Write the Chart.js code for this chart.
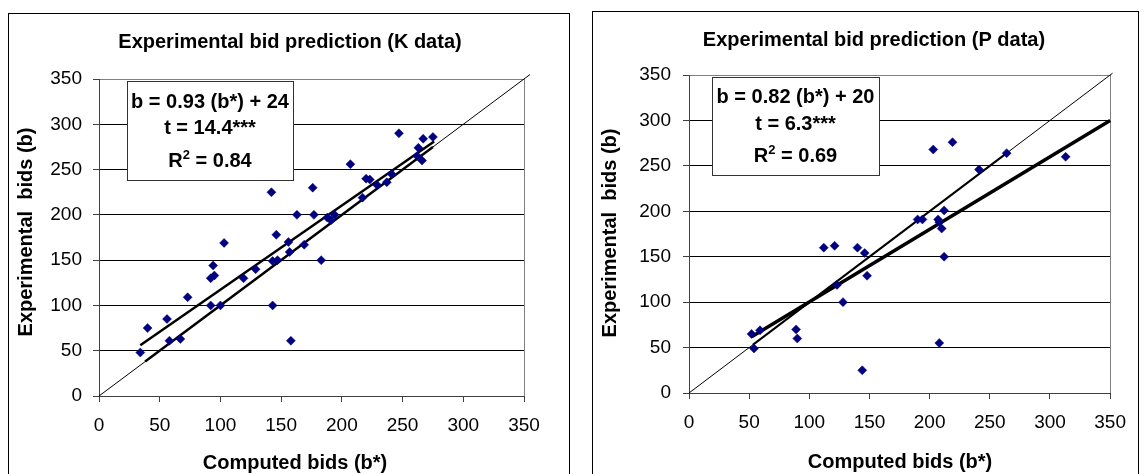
<!DOCTYPE html>
<html>
<head>
<meta charset="utf-8">
<script src="https://cdn.jsdelivr.net/npm/chart.js@4.4.0/dist/chart.umd.min.js"></script>
<style>
body { margin: 0; background: #fff; width: 1144px; height: 474px; overflow: hidden; position: relative; }
.frame { position: absolute; border: 1px solid #000; background: #fff; }
#frameK { left: 8px; top: 13px; width: 560px; height: 470px; }
#frameP { left: 592px; top: 11px; width: 545px; height: 470px; }
.frame canvas { position: absolute; left: 0; top: 0; }
</style>
</head>
<body>
<div class="frame" id="frameK"><canvas id="chartK" width="560" height="461"></canvas></div>
<div class="frame" id="frameP"><canvas id="chartP" width="545" height="463"></canvas></div>

<script>
// K data: computed bids (b*) vs experimental bids (b)
const kComputed = [34, 40, 56, 58, 67, 73, 92, 92, 95, 94, 100, 103, 119, 129, 142, 143, 143, 146, 147, 156, 157, 158, 163, 169, 176, 177, 183, 188, 191, 194, 207, 217, 220, 223, 229, 237, 241, 247, 263, 262, 266, 267, 275];
const kBids     = [48, 75, 85, 61, 63, 109, 100, 130, 133, 144, 100, 169, 130, 140, 225, 100, 149, 178, 150, 170, 159, 61, 200, 167, 230, 200, 150, 197, 194, 200, 256, 219, 240, 239, 233, 236, 245, 290, 274, 265, 260, 284, 286];

// P data
const pComputed = [52, 59, 54, 89, 90, 112, 121, 123, 128, 140, 146, 148, 144, 190, 194, 203, 219, 241, 264, 313, 212, 207, 208, 210, 212, 208];
const pBids     = [65, 69, 49, 70, 60, 160, 162, 119, 100, 160, 154, 129, 25, 191, 191, 268, 276, 246, 264, 260, 201, 191, 188, 181, 150, 55];

// lines (end points)
const kDiagX = [0, 355],  kDiagY = [0, 355];
const kSegX  = [38, 275], kSegY  = [38, 275];
const kFitX  = [34, 276], kFitY  = [56, 281];
const pDiagX = [0, 352],  pDiagY = [0, 352];
const pSegX  = [53, 264], pSegY  = [53, 264];
const pFitX  = [52, 350], pFitY  = [62, 300];

const axisTicks = [0, 50, 100, 150, 200, 250, 300, 350];

const FONT = '"Liberation Sans", Arial, sans-serif';

function pts(xs, ys) {
    return xs.map((x, i) => ({ x: x, y: ys[i] }));
}

function drawR2(ctx, cx, y, val) {
    const big = 'bold 20px ' + FONT, small = 'bold 13px ' + FONT;
    ctx.font = big;
    const wR = ctx.measureText('R').width;
    const wRest = ctx.measureText(' = ' + val).width;
    ctx.font = small;
    const w2 = ctx.measureText('2').width;
    let x = cx - (wR + w2 + wRest) / 2;
    ctx.textAlign = 'left';
    ctx.font = big;
    ctx.fillText('R', x, y);
    x += wR;
    ctx.font = small;
    ctx.fillText('2', x, y - 8);
    x += w2;
    ctx.font = big;
    ctx.fillText(' = ' + val, x, y);
}

const textPlugin = {
    id: 'texts',
    afterDatasetsDraw(chart, args, o) {
        const ctx = chart.ctx;
        ctx.save();
        ctx.fillStyle = '#000';
        ctx.textBaseline = 'alphabetic';
        ctx.textAlign = 'center';
        ctx.font = 'bold 20px ' + FONT;
        ctx.fillText(o.title, o.titleX, o.titleY);
        ctx.fillText(o.xTitle, o.xTitleX, o.xTitleY);
        ctx.save();
        ctx.translate(o.yTitleX, o.yTitleY);
        ctx.rotate(-Math.PI / 2);
        ctx.fillText(o.yTitle, 0, 0);
        ctx.restore();

        // equation box
        const b = o.box;
        ctx.fillStyle = '#fff';
        ctx.fillRect(b.x, b.y, b.w, b.h);
        ctx.strokeStyle = '#333';
        ctx.lineWidth = 1;
        ctx.strokeRect(b.x + 0.5, b.y + 0.5, b.w, b.h);
        ctx.fillStyle = '#000';
        const cx = b.x + b.w / 2;
        ctx.fillText(o.eq, cx, b.l1);
        ctx.fillText(o.tStat, cx, b.l2);
        drawR2(ctx, cx, b.l3, o.r2);
        ctx.restore();
    }
};

function makeChart(id, xs, ys, lines, dims, texts) {
    const datasets = [{
        data: pts(xs, ys),
        pointStyle: 'rectRot',
        pointRadius: 4.5,
        backgroundColor: '#000080',
        borderColor: '#000080',
        borderWidth: 0.5,
        order: 0
    }];
    lines.forEach(l => {
        datasets.push({
            data: pts(l.x, l.y),
            showLine: true,
            pointRadius: 0,
            borderColor: '#000',
            borderWidth: l.w,
            clip: false,
            order: 1
        });
    });

    const tickFont = { family: FONT, size: 19 };
    return new Chart(document.getElementById(id), {
        type: 'scatter',
        data: { datasets: datasets },
        options: {
            responsive: false,
            animation: false,
            layout: { padding: { top: dims.top, left: 0, right: dims.right, bottom: dims.bottom } },
            plugins: { legend: { display: false }, tooltip: { enabled: false }, texts: texts },
            scales: {
                x: {
                    type: 'linear', min: 0, max: 350,
                    afterBuildTicks: s => { s.ticks = axisTicks.map(v => ({ value: v })); },
                    afterFit: s => { s.height = 60; },
                    ticks: { font: tickFont, color: '#000', padding: dims.xPad, maxRotation: 0 },
                    grid: {
                        color: c => c.tick && c.tick.value === 350 ? '#808080' : 'rgba(0,0,0,0)',
                        tickColor: '#404040', tickLength: 6, lineWidth: 1
                    },
                    border: { color: '#404040', width: 1 }
                },
                y: {
                    type: 'linear', min: 0, max: 350,
                    afterBuildTicks: s => { s.ticks = axisTicks.map(v => ({ value: v })); },
                    afterFit: s => { s.width = dims.left; },
                    ticks: { font: tickFont, color: '#000', padding: dims.yPad },
                    grid: {
                        color: c => {
                            if (!c.tick) return '#000';
                            if (c.tick.value === 350) return '#808080';
                            if (c.tick.value === 0) return 'rgba(0,0,0,0)';
                            return '#000';
                        },
                        tickColor: '#404040', tickLength: 6, lineWidth: 1
                    },
                    border: { color: '#404040', width: 1 }
                }
            }
        },
        plugins: [textPlugin]
    });
}

makeChart('chartK', kComputed, kBids, [
    { x: kDiagX, y: kDiagY, w: 1 },
    { x: kSegX, y: kSegY, w: 2.5 },
    { x: kFitX, y: kFitY, w: 2.5 }
], { top: 65, right: 45, bottom: 461 - 382 - 60, left: 90, xPad: 12, yPad: 11 }, {
    title: 'Experimental bid prediction (K data)', titleX: 281, titleY: 34,
    xTitle: 'Computed bids (b*)', xTitleX: 286, xTitleY: 455,
    yTitle: 'Experimental  bids (b)', yTitleX: 23, yTitleY: 218,
    eq: 'b = 0.93 (b*) + 24', tStat: 't = 14.4***', r2: '0.84',
    box: { x: 118, y: 67, w: 166, h: 99, l1: 94, l2: 120, l3: 153 }
});

makeChart('chartP', pComputed, pBids, [
    { x: pDiagX, y: pDiagY, w: 1 },
    { x: pSegX, y: pSegY, w: 2 },
    { x: pFitX, y: pFitY, w: 3.5 }
], { top: 63, right: 21, bottom: 463 - 381 - 60, left: 96, xPad: 12, yPad: 12 }, {
    title: 'Experimental bid prediction (P data)', titleX: 281, titleY: 34,
    xTitle: 'Computed bids (b*)', xTitleX: 307, xTitleY: 456,
    yTitle: 'Experimental  bids (b)', yTitleX: 23, yTitleY: 221,
    eq: 'b = 0.82 (b*) + 20', tStat: 't = 6.3***', r2: '0.69',
    box: { x: 119, y: 65, w: 167, h: 98, l1: 91, l2: 118, l3: 150 }
});
</script>
</body>
</html>
